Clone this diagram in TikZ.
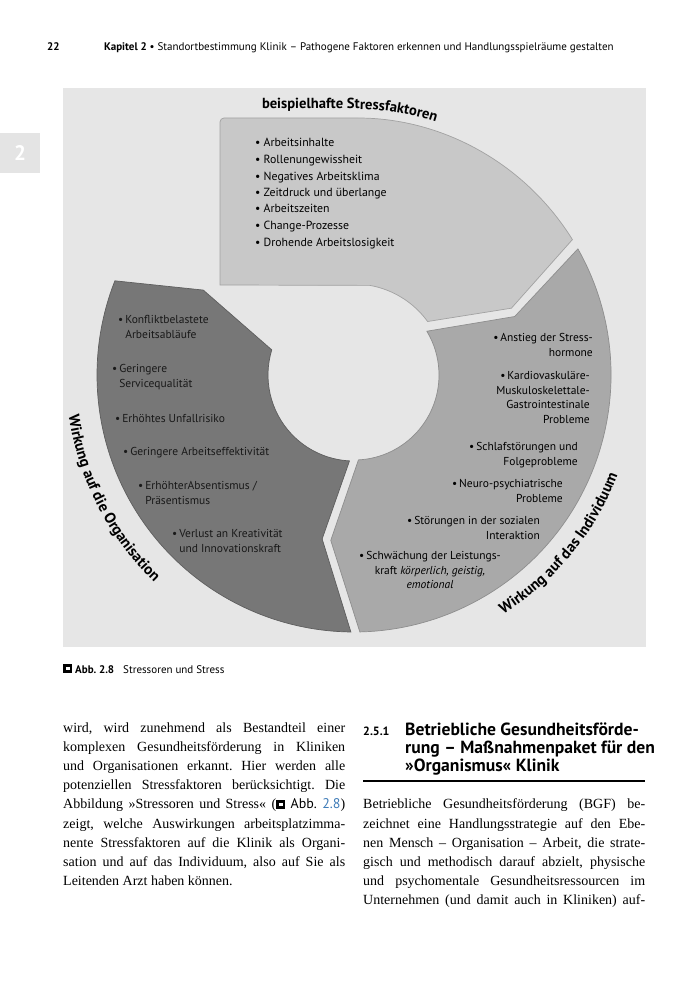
\documentclass[tikz,border=0pt]{standalone}
\usepackage{fontspec}
\setmainfont{Liberation Serif}
\setsansfont{PT Sans}
\usetikzlibrary{positioning,decorations.text}

\definecolor{boxbg}{HTML}{E6E6E6}
\definecolor{tabgray}{HTML}{E4E4E4}
\definecolor{segtop}{HTML}{C8C8C8}
\definecolor{segtopline}{HTML}{A2A2A2}
\definecolor{segright}{HTML}{A9A9A9}
\definecolor{segrightline}{HTML}{8E8E8E}
\definecolor{segdark}{HTML}{777777}
\definecolor{segdarkline}{HTML}{5E5E5E}
\definecolor{linkblue}{HTML}{3F7CB8}

% figure reference icon and one justified column line
\newcommand{\abbicon}{\textcolor{black}{\rule{9pt}{9pt}}\hspace{-6.3pt}\textcolor{white}{\rule[2.8pt]{3.6pt}{3.4pt}}\hspace{2.7pt}}
\newcommand{\colline}[1]{\makebox[282pt][s]{#1}}
\newcommand{\ringfont}{\sffamily\bfseries\fontsize{15.3}{16}\selectfont}
\newcommand{\titlefont}{\sffamily\bfseries\fontsize{14.6}{16}\selectfont}
\frenchspacing

\begin{document}
\begin{tikzpicture}[x=1pt, y=1pt,
    hdr/.style={inner sep=0, anchor=base west, font=\sffamily\fontsize{11}{12}\selectfont},
    body/.style={inner sep=0, anchor=base west, align=left, font=\fontsize{14}{19.2}\selectfont},
    stressor/.style={inner sep=0, anchor=base west, align=left, font=\sffamily\fontsize{11.8}{16.5}\selectfont},
    orgitem/.style={inner sep=0, anchor=base west, align=left, text=black!90, font=\sffamily\fontsize{11.5}{14.5}\selectfont},
    inditem/.style={inner sep=0, anchor=base east, align=right, font=\sffamily\fontsize{11.5}{14.5}\selectfont},
    seg/.style={line width=0.7pt}]
  \useasboundingbox (0,0) rectangle (700,-1000);
  \fill[white] (0,0) rectangle (700,-1000);

  % running head and chapter tab
  \node[hdr] (pnum) at (47,-51) {\textbf{22}};
  \node[hdr] (runhead) at (104,-51) {\textbf{Kapitel 2} \textbullet{} Standortbestimmung Klinik – Pathogene Faktoren erkennen und Handlungsspielräume gestalten};
  \node[fill=tabgray, anchor=north west, inner sep=0, minimum width=40pt, minimum height=40pt, text=white, font=\sffamily\bfseries\fontsize{21}{21}\selectfont] (tab) at (0,-133) {2};

  % figure
  \fill[boxbg] (63,-88) rectangle (646,-647);
  \begin{scope}[shift={(354,-375)}]
    \path[seg, fill=segtop, draw=segtopline] (-134,90) [rounded corners=4pt] -- (-134,257) -- (0,257) [sharp corners]
      arc[start angle=90, end angle=31.8, radius=257pt] -- (23:171pt) -- (36:91pt)
      arc[start angle=36, end angle=80, radius=91pt] -- cycle;
    \path[seg, fill=segright, draw=segrightline] (29.4:257pt)
      arc[start angle=29.4, end angle=-88.7, radius=257pt] -- (-98:167pt) -- (-87:85pt)
      arc[start angle=-87, end angle=31, radius=85pt] -- (20:171pt) -- cycle;
    \path[seg, fill=segdark, draw=segdarkline] (-90.7:257pt)
      arc[start angle=-90.7, end angle=-201.5, radius=257pt] -- (150.6:173pt) -- (163:86pt)
      arc[start angle=163, end angle=267, radius=86pt] -- (-101:167pt) -- cycle;

    \path[decorate, decoration={text along path, text align=left, text={|\titlefont|beispielhafte Stressfaktoren}}]
      (-92,266) -- (0,266) arc[start angle=90, end angle=50, radius=266pt];
    \path[decorate, decoration={text along path, text align=left, text={|\ringfont|Wirkung auf die Organisation}}]
      (188:288pt) arc[start angle=188, end angle=250, radius=288pt];
    \path[decorate, decoration={text along path, text align=left, text={|\ringfont|Wirkung auf das Individuum}}]
      (-58:282pt) arc[start angle=-58, end angle=0, radius=282pt];
  \end{scope}

  \node[stressor] (stressors) at (255,-246) {\textbullet\ Arbeitsinhalte\\ \textbullet\ Rollenungewissheit\\ \textbullet\ Negatives Arbeitsklima\\ \textbullet\ Zeitdruck und überlange\\ \textbullet\ Arbeitszeiten\\ \textbullet\ Change-Prozesse\\ \textbullet\ Drohende Arbeitslosigkeit};

  \node[orgitem] (konflikt) at (118,-338) {\textbullet\,Konfliktbelastete\\ \phantom{\textbullet\,}Arbeitsabläufe};
  \node[orgitem] (service) at (112,-387) {\textbullet\,Geringere\\ \phantom{\textbullet\,}Servicequalität};
  \node[orgitem] (unfall) at (115,-422.5) {\textbullet\,Erhöhtes Unfallrisiko};
  \node[orgitem] (effekt) at (123,-455.5) {\textbullet\,Geringere Arbeitseffektivität};
  \node[orgitem] (absent) at (138,-504) {\textbullet\,ErhöhterAbsentismus /\\ \phantom{\textbullet\,}Präsentismus};
  \node[orgitem] (kreativ) at (172,-552) {\textbullet\,Verlust an Kreativität\\ \phantom{\textbullet\,}und Innovationskraft};

  \node[inditem] (hormone) at (593,-356) {\textbullet\,Anstieg der Stress-\\hormone};
  \node[inditem] (kardio) at (590,-423) {\textbullet\,Kardiovaskuläre-\\Muskuloskelettale-\\Gastrointestinale\\Probleme};
  \node[inditem] (schlaf) at (578,-465) {\textbullet\,Schlafstörungen und\\Folgeprobleme};
  \node[inditem] (neuro) at (563,-502) {\textbullet\,Neuro-psychiatrische\\Probleme};
  \node[inditem] (sozial) at (540,-539) {\textbullet\,Störungen in der sozialen\\Interaktion};
  \node[inditem, anchor=base, align=center] (leistung) at (430,-588.5) {\textbullet\,Schwächung der Leistungs-\\kraft \textit{körperlich, geistig,}\\\textit{emotional}};

  % caption
  \node[hdr] (caption) at (63,-673) {\abbicon\hspace{3pt}\textbf{Abb. 2.8}\hspace{9pt}Stressoren und Stress};

  % text columns
  \node[body] (leftcol) at (63,-885.6) {\colline{wird, wird zunehmend als Bestandteil einer}\\
    \colline{komplexen Gesundheitsförderung in Kliniken}\\
    \colline{und Organisationen erkannt. Hier werden alle}\\
    \colline{potenziellen Stressfaktoren berücksichtigt. Die}\\
    \colline{Abbildung »Stressoren und Stress« (\abbicon\ \textsf{Abb.}~\textcolor{linkblue}{\textsf{2.8}})}\\
    \colline{zeigt, welche Auswirkungen arbeitsplatzimma-}\\
    \colline{nente Stressfaktoren auf die Klinik als Organi-}\\
    \colline{sation und auf das Individuum, also auf Sie als}\\
    Leitenden Arzt haben können.};

  \node[hdr, font=\sffamily\bfseries\fontsize{12}{14}\selectfont] (secnum) at (363,-735.5) {2.5.1};
  \node[hdr, align=left, font=\sffamily\bfseries\fontsize{17.6}{18}\selectfont] (sectitle) at (405,-771.5) {Betriebliche Gesundheitsförde-\\rung – Maßnahmenpaket für den\\»Organismus« Klinik};
  \draw[line width=1.3pt] (363,-781) -- (645,-781);

  \node[body] (rightcol) at (363,-904.8) {\colline{Betriebliche Gesundheitsförderung (BGF) be-}\\
    \colline{zeichnet eine Handlungsstrategie auf den Ebe-}\\
    \colline{nen Mensch – Organisation – Arbeit, die strate-}\\
    \colline{gisch und methodisch darauf abzielt, physische}\\
    \colline{und psychomentale Gesundheitsressourcen im}\\
    \colline{Unternehmen (und damit auch in Kliniken) auf-}};
\end{tikzpicture}
\end{document}
